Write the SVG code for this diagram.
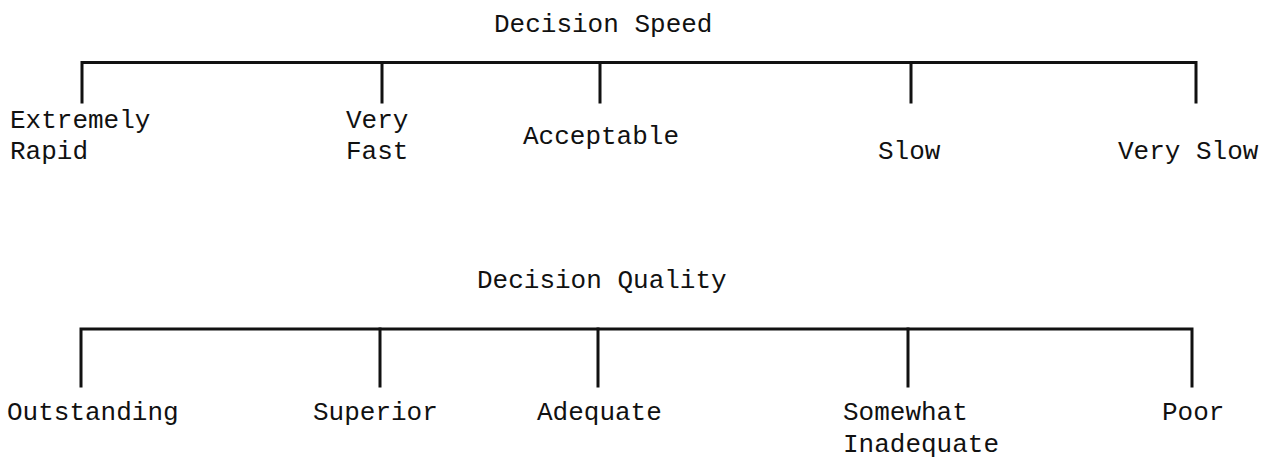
<svg xmlns="http://www.w3.org/2000/svg" width="1271" height="459" viewBox="0 0 1271 459">
<style>
  .t { font-family: "Liberation Mono", "DejaVu Sans Mono", monospace; font-size: 26px; fill: #111; }
  .c { stroke: #111; stroke-width: 3; fill: none; stroke-linecap: square; stroke-linejoin: miter; }
</style>
<rect width="1271" height="459" fill="#fff"/>
<g id="connectors">
  <path class="c" d="M82 102 V62.5 H1196 V102"/>
  <path class="c" d="M382 62.5 V102 M600 62.5 V102 M911 62.5 V102"/>
  <path class="c" d="M81 386 V329 H1192 V386"/>
  <path class="c" d="M380 329 V386 M598 329 V386 M908 329 V386"/>
</g>
<g id="speed-title"><text class="t" x="494" y="31.5">Decision Speed</text></g>
<g id="extremely-rapid"><text class="t" x="10" y="128">Extremely</text><text class="t" x="10" y="159">Rapid</text></g>
<g id="very-fast"><text class="t" x="346" y="128">Very</text><text class="t" x="346" y="159">Fast</text></g>
<g id="acceptable"><text class="t" x="523" y="144">Acceptable</text></g>
<g id="slow"><text class="t" x="878" y="159">Slow</text></g>
<g id="very-slow"><text class="t" x="1118" y="159">Very Slow</text></g>
<g id="quality-title"><text class="t" x="477" y="288">Decision Quality</text></g>
<g id="outstanding"><text class="t" x="7" y="420">Outstanding</text></g>
<g id="superior"><text class="t" x="313" y="420">Superior</text></g>
<g id="adequate"><text class="t" x="537" y="420">Adequate</text></g>
<g id="somewhat-inadequate"><text class="t" x="843" y="420">Somewhat</text><text class="t" x="843" y="452">Inadequate</text></g>
<g id="poor"><text class="t" x="1162" y="420">Poor</text></g>
</svg>
